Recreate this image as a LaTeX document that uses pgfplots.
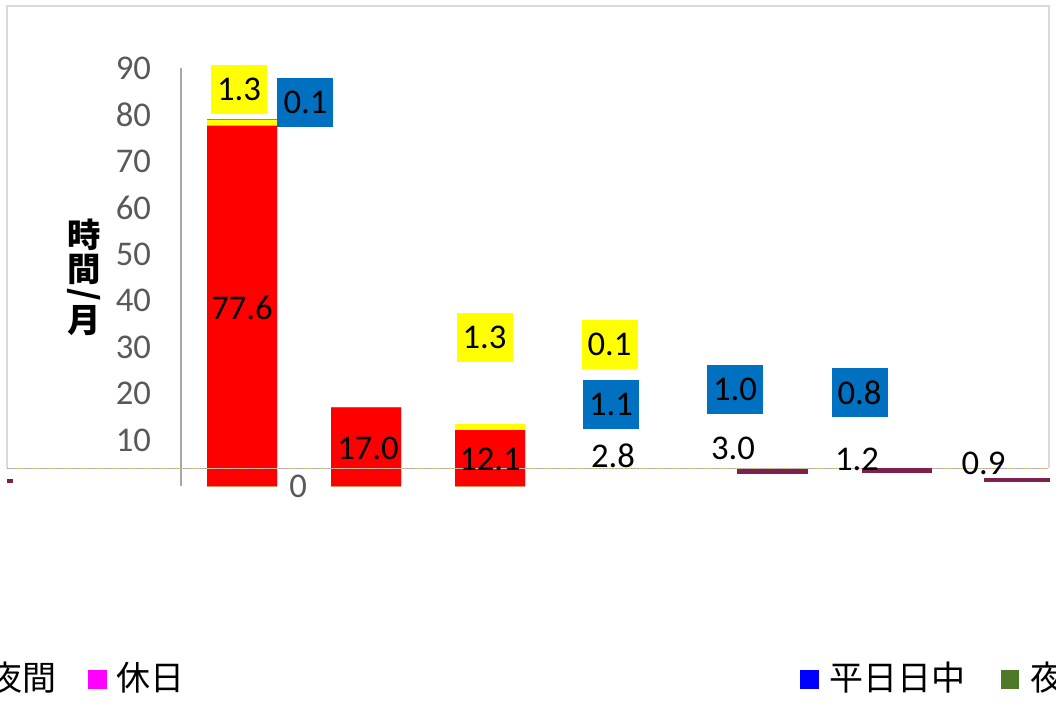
\documentclass[border=0pt]{standalone}
\usepackage{pgfplots}
\pgfplotsset{compat=1.18}
\usepackage{pgfplotstable}
\usepackage{fontspec}
\setmainfont{Carlito}
\newfontfamily\cjk{Noto Sans CJK JP}
\definecolor{tickgray}{HTML}{595959}
\definecolor{axgray}{HTML}{A6A6A6}
\definecolor{bordergray}{HTML}{D9D9D9}
\definecolor{lblue}{HTML}{0070C0}
\definecolor{yel}{HTML}{FFFF00}
\definecolor{pureblue}{HTML}{0000FF}
\definecolor{puremag}{HTML}{FF00FF}
\definecolor{maroon}{RGB}{125,32,75}
\definecolor{lgreen}{RGB}{78,122,39}
\definecolor{glitchA}{RGB}{170,160,215}
\definecolor{glitchB}{RGB}{215,205,110}
\newcommand\lbl{\fontsize{26}{30}\selectfont}
\newcommand\lgd{\fontsize{25.5}{30}\selectfont}

\pgfplotstableread{
x red yellow blue
0 77.6 1.3 0.1
1 17.0 0.0 0.0
2 12.1 1.3 0.0
}\bars

\begin{document}
\begin{tikzpicture}[x=0.75pt,y=0.75pt]
\useasboundingbox (0,0) rectangle (1056,702);
\begin{scope}
\clip (0,0) rectangle (1056,702);
\draw[bordergray, line width=1.5pt] (7,234) -- (7,696) -- (1049,696) -- (1049,234);
\begin{axis}[
  at={(135.75pt,161.625pt)}, anchor=south west,
  scale only axis, width=650.25pt, height=313.875pt,
  xmin=-0.492, xmax=6.5, ymin=0, ymax=90,
  clip=false,
  axis x line=none, axis y line*=left,
  y axis line style={axgray, line width=1.2pt},
  ytick={10,20,...,90}, major tick length=0pt,
  yticklabel style={font=\lbl, text=tickgray, xshift=-19pt},
  /pgf/number format/assume math mode=true,
  ylabel={\cjk\bfseries\fontsize{25}{27.5}\selectfont\shortstack{時\\間\\\rotatebox{-90}{/}\\月}},
  every axis y label/.style={at={(axis description cs:-0.112,0.50)}, anchor=center},
]
% bars (overlapping totals, drawn back to front)
\addplot[ybar, bar width=52.5pt, bar shift=0pt, fill=lblue, draw=none]
  table[x=x, y expr=\thisrow{red}+\thisrow{yellow}+\thisrow{blue}] {\bars};
\addplot[ybar, bar width=52.5pt, bar shift=0pt, fill=yel, draw=none]
  table[x=x, y expr=\thisrow{red}+\thisrow{yellow}] {\bars};
\addplot[ybar, bar width=52.5pt, bar shift=0pt, fill=red, draw=none]
  table[x=x, y=red] {\bars};

% glitch line
\addplot[glitchA, line width=1.2pt, dash pattern=on 1.2pt off 1.2pt] coordinates {(-1.895,3.87) (6.5,3.87)};
\addplot[glitchB, line width=1.2pt, dash pattern=on 1.2pt off 1.2pt, dash phase=1.2pt] coordinates {(-1.895,3.87) (6.5,3.87)};

% small maroon segments
\addplot[maroon, line width=3.75pt] coordinates {(3.992,3.23) (4.565,3.23)};
\addplot[maroon, line width=3.75pt] coordinates {(5.0,3.44) (5.565,3.44)};
\addplot[maroon, line width=3pt] coordinates {(5.984,1.4) (6.516,1.4)};
\addplot[maroon, line width=3pt] coordinates {(-1.895,1.18) (-1.847,1.18)};

% data labels
\tikzset{yb/.style={fill=yel, minimum width=42pt, minimum height=36.75pt, inner sep=0pt, font=\lbl},
         bb/.style={fill=lblue, minimum width=42pt, minimum height=36.75pt, inner sep=0pt, font=\lbl},
         tl/.style={inner sep=0pt, font=\lbl}}
\node[yb] at (axis cs:-0.024,85.4) {1.3};
\node[bb] at (axis cs:0.512,82.6) {0.1};
\node[tl] at (axis cs:0,38.4) {77.6};
\node[tl] at (axis cs:1.016,8.28) {17.0};
\node[tl] at (axis cs:2.0,5.8) {12.1};
\node[yb] at (axis cs:1.956,32.0) {1.3};
\node[yb] at (axis cs:2.964,30.5) {0.1};
\node[bb] at (axis cs:2.976,17.6) {1.1};
\node[tl] at (axis cs:2.992,6.67) {2.8};
\node[bb] at (axis cs:3.976,20.86) {1.0};
\node[tl] at (axis cs:3.96,8.28) {3.0};
\node[bb] at (axis cs:4.98,20.2) {0.8};
\node[tl] at (axis cs:4.96,5.8) {1.2};
\node[tl] at (axis cs:5.98,4.95) {0.9};
\node[tl, text=tickgray] at (axis cs:0.452,0) {0};
\end{axis}

% legend (wrapped)
\node[anchor=east, inner sep=0pt, font=\cjk\lgd] at (57,24.5) {夜間};
\fill[puremag] (88,13) rectangle (107,32);
\node[anchor=west, inner sep=0pt, font=\cjk\lgd] at (116,24.5) {休日};
\fill[pureblue] (800,13) rectangle (819,32);
\node[anchor=west, inner sep=0pt, font=\cjk\lgd] at (829,24.5) {平日日中};
\fill[lgreen] (1001,13) rectangle (1019,32);
\node[anchor=west, inner sep=0pt, font=\cjk\lgd] at (1030,24.5) {夜間};
\end{scope}
\end{tikzpicture}
\end{document}
